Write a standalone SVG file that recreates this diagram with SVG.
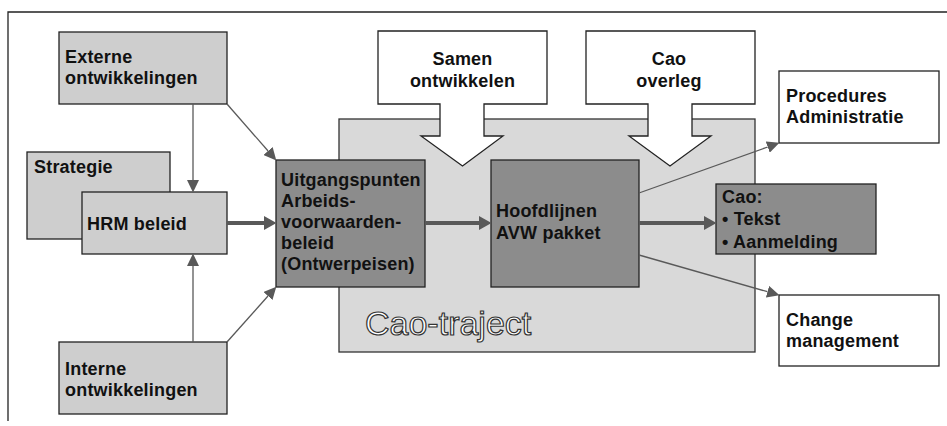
<svg xmlns="http://www.w3.org/2000/svg" width="947" height="426" viewBox="0 0 947 426">
<style>
  .t { font-family: "Liberation Sans", Arial, sans-serif; font-weight: bold; font-size: 18px; fill: #111; letter-spacing: 0.2px; }
  .light { fill: #cecece; stroke: #222; stroke-width: 1.3; }
  .dark { fill: #8c8c8c; stroke: #222; stroke-width: 1.3; }
  .white { fill: #ffffff; stroke: #222; stroke-width: 1.3; }
  .bg { fill: #d9d9d9; stroke: #333; stroke-width: 1.3; }
  .thin { stroke: #595959; stroke-width: 1.3; fill: none; }
  .thick { stroke: #595959; stroke-width: 4; fill: none; }
  .big { font-family: "Liberation Sans", Arial, sans-serif; font-size: 34px; fill: #ffffff; stroke: #333; stroke-width: 1.2; }
</style>
<defs>
  <marker id="ah" markerUnits="userSpaceOnUse" markerWidth="13" markerHeight="12" refX="0" refY="6" orient="auto">
    <path d="M0,0 L12.5,6 L0,12 Z" fill="#595959"/>
  </marker>
  <marker id="ahb" markerUnits="userSpaceOnUse" markerWidth="13" markerHeight="14" refX="0" refY="7" orient="auto">
    <path d="M0,0 L12.5,7 L0,14 Z" fill="#595959"/>
  </marker>
</defs>
<rect width="947" height="426" fill="#ffffff"/>
<path d="M8,421 V12 H947" fill="none" stroke="#222" stroke-width="1.3"/>

<g id="cao-traject">
  <rect class="bg" x="339" y="119" width="416" height="233"/>
  <text class="big" x="365" y="335">Cao-traject</text>
</g>

<g id="samen-ontwikkelen">
  <polygon class="white" points="378,31 547,31 547,104 484,104 484,136 503,136 462.5,166 421,136 440,136 440,104 378,104"/>
  <text class="t" x="462.5" y="65" text-anchor="middle">Samen</text>
  <text class="t" x="462.5" y="87" text-anchor="middle">ontwikkelen</text>
</g>

<g id="cao-overleg">
  <polygon class="white" points="586,31 755,31 755,104 692,104 692,136 711,136 670,166 629,136 648,136 648,104 586,104"/>
  <text class="t" x="669" y="65" text-anchor="middle">Cao</text>
  <text class="t" x="669" y="87" text-anchor="middle">overleg</text>
</g>

<g id="externe">
  <rect class="light" x="59" y="32" width="168" height="72"/>
  <text class="t" x="65" y="63">Externe</text>
  <text class="t" x="65" y="84">ontwikkelingen</text>
</g>

<g id="strategie">
  <rect class="light" x="27" y="152" width="143" height="87"/>
  <text class="t" x="34" y="173">Strategie</text>
</g>

<g id="hrm-beleid">
  <rect class="light" x="82" y="192" width="145" height="62"/>
  <text class="t" x="87" y="230">HRM beleid</text>
</g>

<g id="interne">
  <rect class="light" x="59" y="342" width="168" height="72"/>
  <text class="t" x="65" y="375">Interne</text>
  <text class="t" x="65" y="396">ontwikkelingen</text>
</g>

<g id="uitgangspunten">
  <rect class="dark" x="276" y="160" width="149" height="127"/>
  <text class="t" x="281" y="186">Uitgangspunten</text>
  <text class="t" x="281" y="207">Arbeids-</text>
  <text class="t" x="281" y="228">voorwaarden-</text>
  <text class="t" x="281" y="249">beleid</text>
  <text class="t" x="281" y="270">(Ontwerpeisen)</text>
</g>

<g id="hoofdlijnen">
  <rect class="dark" x="491" y="160" width="148" height="127"/>
  <text class="t" x="496" y="217">Hoofdlijnen</text>
  <text class="t" x="496" y="239">AVW pakket</text>
</g>

<g id="cao">
  <rect class="dark" x="716" y="184" width="160" height="70"/>
  <text class="t" x="722" y="203">Cao:</text>
  <text class="t" x="722" y="225">• Tekst</text>
  <text class="t" x="722" y="248">• Aanmelding</text>
</g>

<g id="procedures">
  <rect class="white" x="779" y="71" width="160" height="72"/>
  <text class="t" x="786" y="102">Procedures</text>
  <text class="t" x="786" y="123">Administratie</text>
</g>

<g id="change">
  <rect class="white" x="779" y="295" width="160" height="71"/>
  <text class="t" x="786" y="326">Change</text>
  <text class="t" x="786" y="347">management</text>
</g>

<g id="connectors">
  <line class="thin" x1="193" y1="104" x2="193" y2="180" marker-end="url(#ah)"/>
  <line class="thin" x1="227" y1="104" x2="268.1" y2="151" marker-end="url(#ah)"/>
  <line class="thin" x1="193" y1="342" x2="193" y2="266" marker-end="url(#ah)"/>
  <line class="thin" x1="227" y1="342" x2="268" y2="296" marker-end="url(#ah)"/>
  <line class="thin" x1="639" y1="193" x2="767.7" y2="147" marker-end="url(#ah)"/>
  <line class="thin" x1="639" y1="255" x2="767.5" y2="291.7" marker-end="url(#ah)"/>
  <line class="thick" x1="227" y1="223" x2="264" y2="223" marker-end="url(#ahb)"/>
  <line class="thick" x1="425" y1="223" x2="479" y2="223" marker-end="url(#ahb)"/>
  <line class="thick" x1="639" y1="223" x2="704" y2="223" marker-end="url(#ahb)"/>
</g>
</svg>
